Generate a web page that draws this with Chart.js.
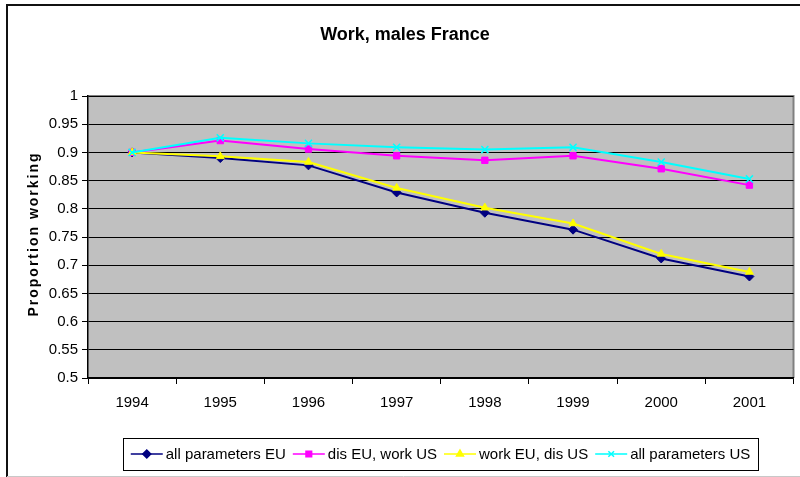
<!DOCTYPE html>
<html>
<head>
<meta charset="utf-8">
<script src="https://cdn.jsdelivr.net/npm/chart.js@4"></script>
<style>
  html, body { margin: 0; padding: 0; background: #fff; }
  #wrap { width: 800px; height: 477px; position: relative; }
</style>
</head>
<body>
<div id="wrap"><canvas id="myChartCanvas" width="800" height="477"></canvas></div>
<script>
const years = ['1994', '1995', '1996', '1997', '1998', '1999', '2000', '2001'];
const allParamsEU = [0.900, 0.890, 0.877, 0.829, 0.793, 0.763, 0.712, 0.680];
const disEUworkUS = [0.900, 0.921, 0.906, 0.894, 0.886, 0.894, 0.871, 0.842];
const workEUdisUS = [0.900, 0.893, 0.883, 0.837, 0.802, 0.774, 0.720, 0.688];
const allParamsUS = [0.900, 0.926, 0.916, 0.909, 0.905, 0.909, 0.883, 0.853];

const FONT = '"Liberation Sans", Arial, sans-serif';

function series(label, values, color, style, order) {
  return {
    label: label,
    data: values,
    borderColor: color,
    backgroundColor: color,
    borderWidth: 2,
    pointStyle: style,
    pointRadius: style === 'crossRot' ? 5 : 4.5,
    pointBorderWidth: style === 'crossRot' ? 1.5 : 1,
    pointBorderColor: color,
    pointBackgroundColor: color,
    tension: 0,
    order: order
  };
}

// background, frame, title, y title, legend
const decor = {
  id: 'decor',
  beforeDraw(chart) {
    const { ctx, chartArea: a } = chart;
    ctx.save();
    ctx.fillStyle = '#fff';
    ctx.fillRect(0, 0, chart.width, chart.height);
    ctx.fillStyle = '#C0C0C0';
    ctx.fillRect(a.left, a.top, a.right - a.left, a.bottom - a.top);
    ctx.strokeStyle = '#808080';
    ctx.lineWidth = 2;
    ctx.beginPath();
    ctx.moveTo(a.left, a.top);
    ctx.lineTo(a.right, a.top);
    ctx.lineTo(a.right, a.bottom);
    ctx.stroke();
    ctx.restore();
  },
  afterDraw(chart) {
    const { ctx, chartArea: a } = chart;
    ctx.save();
    // outer frame
    ctx.strokeStyle = '#111';
    ctx.lineWidth = 2;
    ctx.beginPath();
    ctx.moveTo(7, 477);
    ctx.lineTo(7, 5);
    ctx.lineTo(800, 5);
    ctx.stroke();
    ctx.strokeStyle = '#c8c8c8';
    ctx.lineWidth = 1;
    ctx.beginPath();
    ctx.moveTo(7, 476.5);
    ctx.lineTo(800, 476.5);
    ctx.stroke();

    // title
    ctx.fillStyle = '#000';
    ctx.font = 'bold 18px ' + FONT;
    ctx.textAlign = 'center';
    ctx.textBaseline = 'middle';
    ctx.fillText('Work, males France', 405, 35);

    // y axis title
    ctx.save();
    ctx.translate(34, (a.top + a.bottom) / 2 - 3);
    ctx.rotate(-Math.PI / 2);
    ctx.font = 'bold 14px ' + FONT;
    ctx.letterSpacing = '2px';
    ctx.fillText('Proportion working', 0, 0);
    ctx.restore();

    // legend
    ctx.font = '15px ' + FONT;
    ctx.textAlign = 'left';
    const lineLen = 32, gapText = 3, gapItem = 7, padX = 5;
    const items = chart.data.datasets.map(ds => ({ ds, w: ctx.measureText(ds.label).width }));
    let total = padX * 2;
    items.forEach((it, i) => { total += lineLen + gapText + it.w + (i < items.length - 1 ? gapItem : 0); });
    const bx = 123, by = 438, bh = 32;
    const bw = 758 - 123;
    const cy = by + bh / 2;
    let x = bx + (bw - total) / 2 + padX;
    ctx.strokeStyle = '#000';
    ctx.lineWidth = 1;
    ctx.strokeRect(bx + 0.5, by + 0.5, bw, bh);
    items.forEach(it => {
      const ds = it.ds;
      ctx.strokeStyle = ds.borderColor;
      ctx.lineWidth = 1.5;
      ctx.beginPath();
      ctx.moveTo(x, cy);
      ctx.lineTo(x + lineLen, cy);
      ctx.stroke();
      ctx.fillStyle = ds.borderColor;
      ctx.strokeStyle = ds.borderColor;
      ctx.beginPath();
      Chart.helpers.drawPoint(ctx, { pointStyle: ds.pointStyle, radius: 4, rotation: 0, borderWidth: 1 }, x + lineLen / 2, cy);
      ctx.fillStyle = '#000';
      ctx.textBaseline = 'middle';
      ctx.fillText(ds.label, x + lineLen + gapText, cy + 1);
      x += lineLen + gapText + it.w + gapItem;
    });
    ctx.restore();
  }
};

const data = {
  labels: years,
  datasets: [
    series('all parameters EU', allParamsEU, '#000080', 'rectRot', 3),
    series('dis EU, work US', disEUworkUS, '#FF00FF', 'rect', 2),
    series('work EU, dis US', workEUdisUS, '#FFFF00', 'triangle', 1),
    series('all parameters US', allParamsUS, '#00FFFF', 'crossRot', 0)
  ]
};

const config = {
  type: 'line',
  data: data,
  options: {
    responsive: false,
    animation: false,
    layout: { padding: { top: 96, right: 4, left: 0, bottom: 0 } },
    plugins: {
      title: { display: false },
      legend: { display: false },
      tooltip: { enabled: false }
    },
    scales: {
      x: {
        offset: true,
        grid: {
          offset: true,
          drawOnChartArea: false,
          drawTicks: true,
          tickLength: 6,
          color: '#000'
        },
        border: { color: '#000', width: 1.5 },
        ticks: {
          color: '#000',
          padding: 10,
          maxRotation: 0,
          font: { family: FONT, size: 15 }
        },
        afterFit(scale) { scale.height = 99; }
      },
      y: {
        min: 0.5,
        max: 1,
        grid: {
          color: '#000',
          lineWidth: 1,
          tickLength: 6
        },
        border: { color: '#000', width: 1.5 },
        ticks: {
          stepSize: 0.05,
          color: '#000',
          padding: 4,
          font: { family: FONT, size: 15 },
          callback: v => String(Math.round(v * 100) / 100)
        },
        afterFit(scale) { scale.width = 88; }
      }
    }
  },
  plugins: [decor]
};

const canvasEl = document.getElementById('myChartCanvas');
const canvasChart = new Chart(canvasEl, config);
</script>
</body>
</html>
